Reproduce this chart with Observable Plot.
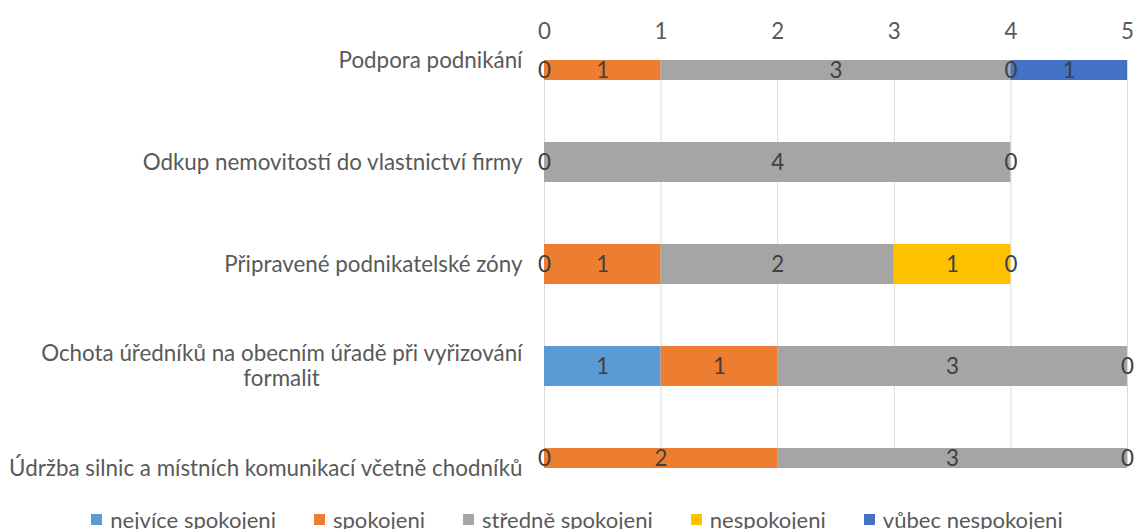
<!DOCTYPE html>
<html>
<head>
<meta charset="utf-8">
<script src="https://cdn.jsdelivr.net/npm/d3@7"></script>
<script src="https://cdn.jsdelivr.net/npm/@observablehq/plot@0.6"></script>
<style>
  body { margin: 0; background: #fff; }
  #chart { width: 1134px; }
  .lg-swatches-wrap { min-height: 22px !important; justify-content: center; padding-left: 58px; }
  .lg-swatch { margin-right: 38px !important; }
  .lg-swatch > svg { margin-right: 8px !important; }
</style>
</head>
<body>
<div id="chart"></div>
<script>
const categories = [
  "Podpora podnikání",
  "Odkup nemovitostí do vlastnictví firmy",
  "Připravené podnikatelské zóny",
  "Ochota úředníků na obecním úřadě při vyřizování formalit",
  "Údržba silnic a místních komunikací včetně chodníků"
];
const series = ["nejvíce spokojeni", "spokojeni", "středně spokojeni", "nespokojeni", "vůbec nespokojeni"];
const colors = ["#5B9BD5", "#ED7D31", "#A5A5A5", "#FFC000", "#4472C4"];
const nejvice     = [0, 0, 0, 1, 0];
const spokojeni   = [1, null, 1, 1, 2];
const stredne     = [3, 4, 2, 3, 3];
const nespokojeni = [0, 0, 1, 0, 0];
const vubec       = [1, null, 0, null, null];
const xTicks = [0, 1, 2, 3, 4, 5];

const seriesValues = [nejvice, spokojeni, stredne, nespokojeni, vubec];
const half = 0.196;
const yMax = categories.length - 1;

const rows = [];
categories.forEach((cat, i) => {
  let acc = 0;
  series.forEach((s, k) => {
    const v = seriesValues[k][i];
    if (v == null) return;
    const y1 = i - half, y2 = i + half;
    rows.push({cat, idx: i, series: s, value: v, x1: acc, x2: acc + v,
      y1, y2, ymid: (Math.max(y1, 0) + Math.min(y2, yMax)) / 2});
    acc += v;
  });
});

const canvas = document.createElement("canvas");
const ctx = canvas.getContext("2d");
const FAMILY = "Lato";
function measure(text, size) { ctx.font = `${size}px ${FAMILY}`; return ctx.measureText(text).width; }
function fit(text, target) { return 100 * target / measure(text, 100); }

const catSize = fit(categories[4], 514);
const legSize = fit("vůbec nespokojeni", 180);

const labelRows = categories.map((c, i) => ({idx: i, text: c}));
const line1 = "Ochota úředníků na obecním úřadě při vyřizování";
const line2 = "formalit";
const w1 = measure(line1, catSize);
const singleLabels = labelRows.filter(d => d.idx !== 3);

const plot = Plot.plot({
  width: 1134,
  height: 500,
  marginTop: 60,
  marginBottom: 32,
  marginLeft: 544,
  marginRight: 7,
  style: {fontFamily: FAMILY, background: "#fff"},
  x: {domain: [0, 5], axis: null},
  y: {domain: [0, yMax], reverse: true, axis: null},
  color: {domain: series, range: colors},
  marks: [
    Plot.gridX(xTicks, {stroke: "#d9d9d9", strokeOpacity: 1, strokeWidth: 1}),
    Plot.axisX(xTicks, {anchor: "top", tickSize: 0, tickPadding: 22, tickFormat: d3.format("d"), fontSize: catSize, fill: "#595959", label: null}),
    Plot.rect(rows, {x1: "x1", x2: "x2", y1: "y1", y2: "y2", fill: "series", clip: true}),
    Plot.text(rows, {
      x: d => d.value === 0 ? d.x1 : (d.x1 + d.x2) / 2,
      y: "ymid", text: d => String(d.value),
      fill: "#404040", fontSize: catSize, textAnchor: "middle"
    }),
    Plot.text(singleLabels, {x: () => 0, y: "idx", text: "text", dx: -22, textAnchor: "end", fill: "#595959", fontSize: catSize}),
    Plot.text([{idx: 3, text: line1}], {x: () => 0, y: "idx", text: "text", dx: -22, dy: -13, textAnchor: "end", fill: "#595959", fontSize: catSize}),
    Plot.text([{idx: 3, text: line2}], {x: () => 0, y: "idx", text: "text", dx: -22 - w1 / 2, dy: 12, textAnchor: "middle", fill: "#595959", fontSize: catSize})
  ]
});

const legend = Plot.legend({
  color: {domain: series, range: colors},
  legend: "swatches",
  swatchSize: 11,
  className: "lg",
  style: {fontFamily: FAMILY, fontSize: legSize + "px", color: "#595959", marginTop: "6px", marginBottom: "0"}
});

const root = document.getElementById("chart");
root.appendChild(plot);
root.appendChild(legend);
</script>
</body>
</html>
